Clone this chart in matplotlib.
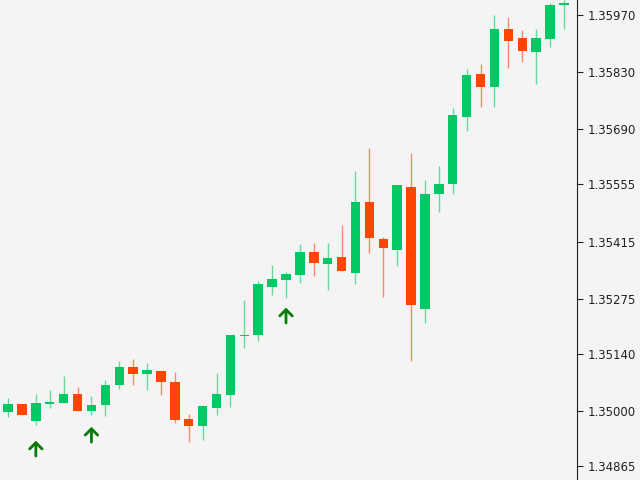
import matplotlib
matplotlib.use("Agg")
import matplotlib.pyplot as plt
import numpy as np

base = 1.35000
# prices as offsets from base in 1e-5 units
opens  = [-2,17,-25,17,20,42,0,15,64,108,91,98,71,-20,-37,7,39,184,186,304,321,333,390,360,377,338,512,421,394,549,250,532,556,720,826,794,936,914,880,911,995]
highs  = [32,17,42,51,86,59,37,76,123,127,118,98,96,-7,12,93,186,272,319,358,341,409,412,412,456,588,644,426,554,632,566,600,742,838,850,970,965,933,936,1000,1007]
lows   = [-15,-10,-34,7,20,0,-10,-12,54,64,51,39,-29,-76,-71,-10,10,154,172,284,277,314,331,296,343,311,387,279,355,123,216,488,532,686,745,745,840,855,801,892,936]
closes = [17,-10,20,22,42,0,15,64,108,91,100,71,-22,-37,12,42,186,186,311,323,336,390,363,375,343,512,424,399,554,260,532,556,725,823,794,936,907,882,914,995,1000]
arrow_idx = [2, 6, 20]
arrow_tip = [-66, -32, 260]
tick_vals = [1.34865,1.35000,1.35140,1.35275,1.35415,1.35555,1.35690,1.35830,1.35970]

o = base + np.array(opens)*1e-5
h = base + np.array(highs)*1e-5
l = base + np.array(lows)*1e-5
c = base + np.array(closes)*1e-5
x = np.arange(len(o))

fig = plt.figure(figsize=(6.4,4.8), dpi=100, facecolor='#F4F4F4')
ax = fig.add_axes([0,0,577/640,1])
ax.set_facecolor('#F4F4F4')
for i in x:
    up = c[i] >= o[i]
    col = '#00C864' if up else '#FF4500'
    wcol = '#66D99B' if up else '#FF8A66'
    ax.vlines(i, l[i], h[i], color=wcol, lw=1, zorder=1)
    lo, hi = min(o[i], c[i]), max(o[i], c[i])
    ax.bar(i, max(hi-lo, 2e-5), bottom=lo, width=0.68, color=col, zorder=2, linewidth=0)
for i, t in zip(arrow_idx, arrow_tip):
    ax.annotate('', xy=(i, base+t*1e-5), xytext=(0,-15), textcoords='offset points',
                arrowprops=dict(arrowstyle='->,head_width=0.45,head_length=0.45', color='#087A08', lw=2))
ax.set_xlim(-0.58, 40.94)
ax.set_ylim(base-169e-5, base+1007e-5)
ax.yaxis.tick_right()
ax.set_yticks(tick_vals)
ax.set_yticklabels([f"{v:.5f}" for v in tick_vals], fontsize=8.5, color='#222222')
ax.tick_params(axis='y', length=4, color='#222222')
ax.set_xticks([])
for s in ['top','left','bottom']:
    ax.spines[s].set_visible(False)
ax.spines['right'].set_color('#222222')
fig.savefig('out.png', dpi=100, facecolor='#F4F4F4')
